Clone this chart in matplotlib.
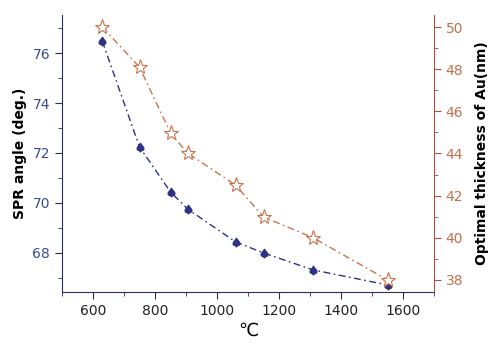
import matplotlib
matplotlib.use("Agg")
import matplotlib.pyplot as plt
from matplotlib.ticker import MultipleLocator

# annealing temperature (C)
temps = [630, 750, 850, 905, 1060, 1150, 1310, 1550]
# SPR angle (deg.)
spr_angle = [76.48, 72.24, 70.44, 69.76, 68.44, 68.0, 67.32, 66.72]
# optimal thickness of Au (nm)
thickness = [50.0, 48.1, 44.97, 44.02, 42.5, 40.99, 40.0, 38.0]

blue = "#2e3282"
orange = "#c8734e"
left_axis = "#2a2f5a"
right_axis = "#a0553c"

fig = plt.figure(figsize=(5, 3.43), dpi=100)
ax = fig.add_axes([0.124, 0.149, 0.744, 0.807])
ax2 = ax.twinx()

ax.plot(temps, spr_angle, color=blue, linestyle=(0, (5, 2.5, 1.2, 2.5)),
        linewidth=1, marker=r"$\spadesuit$", markersize=6, zorder=3)
ax2.plot(temps, thickness, color=orange, linestyle=(0, (5, 2.5, 1.2, 2.5)),
         linewidth=1, marker="*", markersize=11, markerfacecolor="white",
         markeredgecolor=orange, markeredgewidth=0.8)

ax.set_xlim(500, 1700)
ax.set_ylim(66.44, 77.52)
ax2.set_ylim(37.43, 50.57)

ax.xaxis.set_major_locator(MultipleLocator(200))
ax.xaxis.set_minor_locator(MultipleLocator(100))
ax.yaxis.set_major_locator(MultipleLocator(2))
ax.yaxis.set_minor_locator(MultipleLocator(1))
ax2.yaxis.set_major_locator(MultipleLocator(2))
ax2.yaxis.set_minor_locator(MultipleLocator(1))

for a in (ax, ax2):
    a.spines["top"].set_visible(False)
ax.spines["left"].set_color(left_axis)
ax.spines["bottom"].set_color(left_axis)
ax.spines["right"].set_visible(False)
ax2.spines["left"].set_visible(False)
ax2.spines["bottom"].set_visible(False)
ax2.spines["right"].set_color(right_axis)

ax.tick_params(axis="x", which="both", direction="out", colors=left_axis,
               labelcolor="#222222", labelsize=10)
ax.tick_params(axis="x", which="major", length=5)
ax.tick_params(axis="x", which="minor", length=3)
ax.tick_params(axis="y", which="both", direction="out", colors=left_axis,
               labelcolor="#3c4a8c", labelsize=10)
ax.tick_params(axis="y", which="major", length=5)
ax.tick_params(axis="y", which="minor", length=3)
ax2.tick_params(axis="y", which="both", direction="out", colors=right_axis,
                labelcolor="#c0714e", labelsize=10)
ax2.tick_params(axis="y", which="major", length=5)
ax2.tick_params(axis="y", which="minor", length=3)

ax.set_xlabel("℃", fontsize=13, labelpad=3)
ax.set_ylabel("SPR angle (deg.)", fontsize=10, fontweight="bold")
ax2.set_ylabel("Optimal thickness of Au(nm)", fontsize=10, fontweight="bold",
               labelpad=8)

fig.savefig("out.png", dpi=100)
